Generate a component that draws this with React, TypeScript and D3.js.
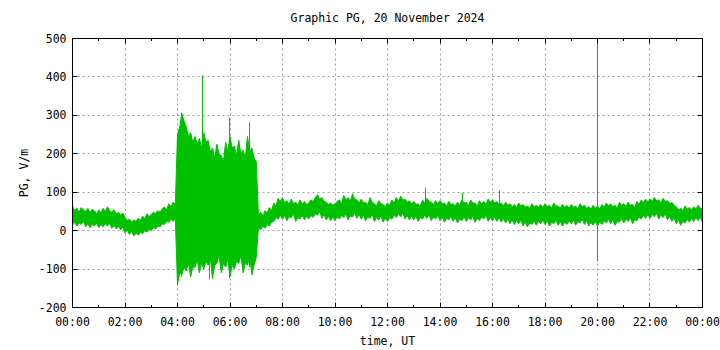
import React, { useEffect, useRef } from 'react';
import * as d3 from 'd3';

const title = 'Graphic PG, 20 November 2024';
const xAxisLabel = 'time, UT';
const yAxisLabel = 'PG, V/m';

const yTicks = [-200, -100, 0, 100, 200, 300, 400, 500];
const xTickMinutes = [0, 120, 240, 360, 480, 600, 720, 840, 960, 1080, 1200, 1320, 1440];
const xTickLabels = ['00:00', '02:00', '04:00', '06:00', '08:00', '10:00', '12:00', '14:00', '16:00', '18:00', '20:00', '22:00', '00:00'];
const xMinorMinutes = [60, 180, 300, 420, 540, 660, 780, 900, 1020, 1140, 1260, 1380];

// envelope of the 1-s record, one pair per 5 minutes (00:00 ... 24:00), V/m
const bucketMinutes = 5;
const bandHigh = [
  64, 52, 58, 48, 60, 54, 50, 58, 47, 55, 52, 44,
  54, 46, 58, 50, 62, 52, 48, 54, 44, 48, 40, 46,
  34, 26, 30, 22, 28, 24, 32, 26, 38, 30, 44, 36,
  42, 48, 44, 52, 48, 56, 62, 54, 70, 62, 74, 68,
  250, 270, 305, 285, 270, 245, 255, 230, 245, 225, 240, 215,
  255, 230, 235, 205, 215, 190, 225, 200, 195, 180, 230, 205,
  245, 215, 220, 195, 235, 200, 210, 190, 245, 205, 215, 190,
  180, 40, 48, 38, 52, 46, 60, 52, 72, 64, 84, 76,
  86, 72, 78, 68, 82, 70, 74, 66, 80, 70, 76, 68,
  72, 80, 76, 86, 94, 82, 86, 76, 74, 68, 72, 66,
  70, 76, 80, 70, 92, 80, 86, 76, 96, 82, 80, 72,
  82, 72, 74, 66, 86, 74, 70, 64, 78, 70, 68, 62,
  72, 66, 80, 72, 86, 76, 90, 80, 82, 74, 78, 70,
  76, 68, 70, 64, 80, 72, 84, 76, 74, 68, 78, 70,
  78, 70, 72, 64, 76, 68, 70, 64, 74, 66, 80, 72,
  74, 66, 80, 72, 72, 64, 78, 70, 76, 68, 82, 74,
  80, 72, 76, 68, 72, 64, 74, 66, 70, 62, 68, 60,
  72, 64, 68, 60, 64, 58, 70, 62, 66, 60, 68, 60,
  70, 62, 66, 58, 72, 64, 64, 58, 68, 60, 66, 58,
  68, 60, 64, 56, 70, 62, 66, 58, 62, 56, 66, 58,
  64, 56, 68, 60, 72, 64, 70, 62, 66, 58, 74, 66,
  70, 62, 74, 66, 68, 60, 76, 68, 80, 72, 82, 74,
  82, 76, 86, 78, 80, 72, 84, 76, 78, 70, 74, 66,
  62, 54, 58, 50, 64, 56, 60, 54, 62, 56, 66, 58,
  56,
];
const bandLow = [
  14, 22, 12, 20, 16, 24, 10, 18, 8, 16, 12, 20,
  8, 16, 10, 18, 12, 20, 6, 14, 4, 12, 2, 10,
  -6, 2, -10, -2, -14, -6, -12, -4, -8, 0, -4, 4,
  0, 8, 4, 12, 10, 18, 16, 24, 22, 30, 24, 32,
  -140, -110, -115, -95, -105, -85, -120, -95, -95, -75, -110, -85,
  -100, -80, -90, -70, -125, -90, -85, -65, -110, -85, -95, -75,
  -120, -90, -100, -80, -85, -65, -110, -85, -90, -70, -115, -90,
  -70, 8, 2, 12, 6, 16, 12, 22, 24, 34, 30, 40,
  30, 40, 26, 36, 34, 44, 24, 34, 30, 40, 28, 38,
  30, 40, 34, 44, 40, 50, 32, 42, 28, 38, 26, 36,
  26, 36, 30, 40, 34, 44, 28, 38, 36, 46, 32, 42,
  30, 40, 26, 36, 32, 42, 24, 34, 28, 38, 22, 32,
  24, 34, 30, 40, 34, 44, 36, 46, 30, 40, 28, 38,
  28, 38, 24, 34, 30, 40, 32, 42, 26, 36, 30, 40,
  26, 36, 22, 32, 28, 38, 24, 34, 20, 30, 26, 36,
  24, 34, 28, 38, 22, 32, 26, 36, 30, 40, 24, 34,
  26, 36, 24, 34, 22, 32, 20, 30, 18, 28, 16, 26,
  18, 28, 12, 22, 10, 20, 16, 26, 14, 24, 18, 28,
  16, 26, 12, 22, 18, 28, 14, 24, 12, 22, 16, 26,
  18, 28, 14, 24, 20, 30, 16, 26, 12, 22, 14, 24,
  12, 22, 16, 26, 20, 30, 18, 28, 14, 24, 22, 32,
  20, 30, 24, 34, 18, 28, 26, 36, 30, 40, 32, 42,
  32, 42, 36, 46, 30, 40, 34, 44, 28, 38, 24, 34,
  18, 28, 14, 24, 20, 30, 22, 32, 24, 34, 26, 36,
  22,
];

// isolated single-sample spikes: minute of day, low, high
const spikeMinutes = [240, 250, 298, 312, 358, 404, 807, 891, 975, 1200];
const spikeLow = [-141, -120, -90, -127, -124, -95, 40, 30, 30, -80];
const spikeHigh = [250, 307, 404, 200, 294, 282, 112, 98, 105, 500];

const W = 720;
const H = 350;
const margin = { top: 38, right: 18, bottom: 43, left: 72 };
const FONT = '"DejaVu Sans Mono", "Liberation Mono", monospace';
const GREEN = '#00c000';

const App: React.FC = () => {
  const svgRef = useRef<SVGSVGElement>(null);

  useEffect(() => {
    if (!svgRef.current) return;
    const svg = d3.select(svgRef.current);
    svg.selectAll('*').remove();

    const left = margin.left + 0.5;
    const right = W - margin.right + 0.5;
    const top = margin.top + 0.5;
    const bottom = H - margin.bottom + 0.5;

    const x = d3.scaleLinear().domain([0, 1440]).range([left, right]);
    const y = d3.scaleLinear().domain([-200, 500]).range([bottom, top]);
    const px = (v: number) => Math.round(x(v) - 0.5) + 0.5;
    const py = (v: number) => Math.round(y(v) - 0.5) + 0.5;

    svg.append('rect').attr('width', W).attr('height', H).attr('fill', '#fff');

    svg
      .append('defs')
      .append('clipPath')
      .attr('id', 'plot-clip')
      .append('rect')
      .attr('x', left)
      .attr('y', top)
      .attr('width', right - left)
      .attr('height', bottom - top);

    // grid
    const grid = svg.append('g').attr('stroke', '#a0a0a0').attr('stroke-dasharray', '2,3');
    grid
      .selectAll('line.gx')
      .data(xTickMinutes.slice(1, -1))
      .enter()
      .append('line')
      .attr('x1', (d) => px(d))
      .attr('x2', (d) => px(d))
      .attr('y1', top)
      .attr('y2', bottom);
    grid
      .selectAll('line.gy')
      .data(yTicks.slice(1, -1))
      .enter()
      .append('line')
      .attr('y1', (d) => py(d))
      .attr('y2', (d) => py(d))
      .attr('x1', left)
      .attr('x2', right);

    // data
    const plot = svg.append('g').attr('clip-path', 'url(#plot-clip)');
    const band = d3
      .area<number>()
      .x((_, i) => x(i * bucketMinutes))
      .y0((_, i) => y(bandLow[i]))
      .y1((d) => y(d));
    plot
      .append('path')
      .datum(bandHigh)
      .attr('d', band)
      .attr('fill', GREEN)
      .attr('stroke', GREEN)
      .attr('stroke-width', 1);

    plot
      .selectAll('line.spike')
      .data(spikeMinutes)
      .enter()
      .append('line')
      .attr('x1', (d) => px(d))
      .attr('x2', (d) => px(d))
      .attr('y1', (_, i) => y(spikeLow[i]))
      .attr('y2', (_, i) => y(spikeHigh[i]))
      .attr('stroke', GREEN)
      .attr('stroke-width', 1);

    // border and ticks
    const axes = svg.append('g').attr('stroke', '#000').attr('stroke-width', 1);
    axes
      .append('rect')
      .attr('x', left)
      .attr('y', top)
      .attr('width', right - left)
      .attr('height', bottom - top)
      .attr('fill', 'none');

    const tickLines = (vals: number[], len: number) => {
      vals.forEach((v) => {
        axes.append('line').attr('x1', px(v)).attr('x2', px(v)).attr('y1', bottom).attr('y2', bottom - len);
        axes.append('line').attr('x1', px(v)).attr('x2', px(v)).attr('y1', top).attr('y2', top + len);
      });
    };
    tickLines(xTickMinutes, 5);
    tickLines(xMinorMinutes, 2.5);
    yTicks.forEach((v) => {
      axes.append('line').attr('y1', py(v)).attr('y2', py(v)).attr('x1', left).attr('x2', left + 5);
      axes.append('line').attr('y1', py(v)).attr('y2', py(v)).attr('x1', right).attr('x2', right - 5);
    });

    // labels
    const txt = svg.append('g').attr('font-family', FONT).attr('font-size', 11.5).attr('fill', '#000');
    txt
      .selectAll('text.yl')
      .data(yTicks)
      .enter()
      .append('text')
      .attr('x', left - 6)
      .attr('y', (d) => y(d) + 4)
      .attr('text-anchor', 'end')
      .text((d) => String(d));
    txt
      .selectAll('text.xl')
      .data(xTickMinutes)
      .enter()
      .append('text')
      .attr('x', (d) => x(d))
      .attr('y', bottom + 18)
      .attr('text-anchor', 'middle')
      .text((_, i) => xTickLabels[i]);

    txt.append('text').attr('x', (left + right) / 2).attr('y', 22).attr('text-anchor', 'middle').text(title);
    txt.append('text').attr('x', (left + right) / 2).attr('y', 345).attr('text-anchor', 'middle').text(xAxisLabel);
    txt
      .append('text')
      .attr('transform', `translate(28,${(top + bottom) / 2}) rotate(-90)`)
      .attr('text-anchor', 'middle')
      .text(yAxisLabel);
  }, []);

  return (
    <svg
      ref={svgRef}
      width={W}
      height={H}
      style={{ position: 'absolute', left: 0, top: 0, display: 'block' }}
    ></svg>
  );
};

export default App;
